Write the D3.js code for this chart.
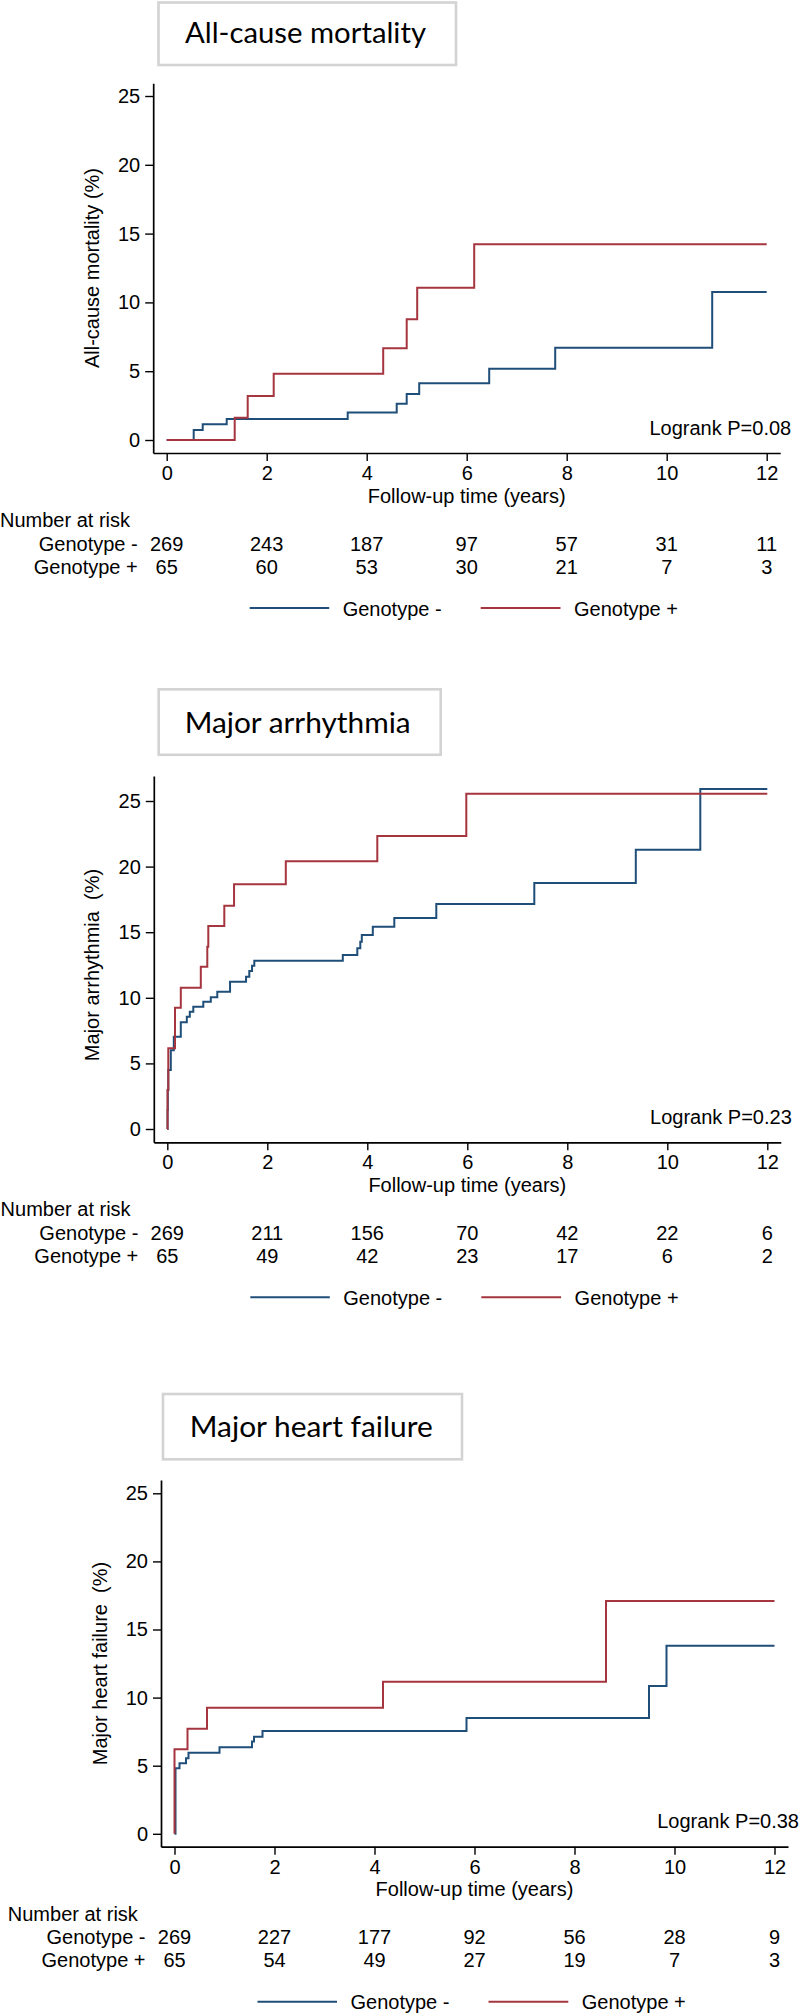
<!DOCTYPE html>
<html>
<head>
<meta charset="utf-8">
<script src="https://cdn.jsdelivr.net/npm/d3@7"></script>
<style>
  body { margin: 0; background: #fff; }
  svg { display: block; }
  text { font-family: "Liberation Sans", Arial, sans-serif; fill: #000; }
  .title { font-family: Lato, "Open Sans", sans-serif; }
</style>
</head>
<body>
<svg id="chart" width="800" height="2014"></svg>
<script>
// Tick values shared by all three panels
const xTicks = [0, 2, 4, 6, 8, 10, 12];
const yTicks = [0, 5, 10, 15, 20, 25];
const groups = ['Genotype -', 'Genotype +'];

// Cumulative incidence steps: [years, percent]
const mortalityNeg = [[0, 0], [0.54, 0.73], [0.72, 1.14], [1.2, 1.53], [3.62, 1.99], [4.6, 2.64],
  [4.8, 3.34], [5.05, 4.12], [6.45, 5.18], [7.77, 6.71], [10.91, 10.76], [12, 10.76]];
const mortalityPos = [[0, 0], [1.36, 1.62], [1.62, 3.2], [2.14, 4.82], [4.33, 6.66], [4.8, 8.77],
  [5.01, 11.07], [6.15, 14.22], [12, 14.22]];

const arrhythmiaNeg = [[0, 0], [0.005, 1.45], [0.01, 2.97], [0.02, 4.5], [0.07, 6.0], [0.13, 7.04],
  [0.27, 8.13], [0.39, 8.56], [0.45, 8.94], [0.52, 9.32], [0.72, 9.7], [0.87, 10.04], [1.0, 10.47],
  [1.255, 11.23], [1.575, 11.6], [1.64, 12.04], [1.695, 12.45], [1.74, 12.83], [3.51, 13.26],
  [3.8, 13.77], [3.86, 14.28], [3.89, 14.79], [4.11, 15.42], [4.54, 16.08], [5.38, 17.15],
  [7.34, 18.75], [9.37, 21.29], [10.66, 25.91], [12, 25.91]];
const arrhythmiaPos = [[0, 0], [0.005, 2.97], [0.02, 6.15], [0.154, 9.25], [0.27, 10.77], [0.67, 12.37],
  [0.8, 13.9], [0.82, 15.47], [1.14, 17.02], [1.335, 18.65], [2.37, 20.4], [4.2, 22.33],
  [5.98, 25.56], [12, 25.56]];

const heartNeg = [[0, 0], [0.02, 4.81], [0.1, 5.18], [0.23, 5.54], [0.28, 5.96], [0.9, 6.35],
  [1.55, 6.77], [1.59, 7.13], [1.76, 7.55], [5.84, 8.5], [9.49, 10.85], [9.84, 13.8], [12, 13.8]];
const heartPos = [[0, 0], [0, 6.2], [0.26, 7.72], [0.65, 9.26], [4.17, 11.17], [8.63, 17.09], [12, 17.09]];

// Number at risk at each x tick
const mortalityRiskNeg = [269, 243, 187, 97, 57, 31, 11];
const mortalityRiskPos = [65, 60, 53, 30, 21, 7, 3];
const arrhythmiaRiskNeg = [269, 211, 156, 70, 42, 22, 6];
const arrhythmiaRiskPos = [65, 49, 42, 23, 17, 6, 2];
const heartRiskNeg = [269, 227, 177, 92, 56, 28, 9];
const heartRiskPos = [65, 54, 49, 27, 19, 7, 3];

const colors = { neg: '#1f4e79', pos: '#a5353f' };

const panels = [
  {
    title: 'All-cause mortality', yLabel: 'All-cause mortality (%)', logrank: 'Logrank P=0.08',
    neg: mortalityNeg, pos: mortalityPos, riskNeg: mortalityRiskNeg, riskPos: mortalityRiskPos,
    xZero: 166.7, yZero: 440, yTop: 83.3, axisY: 453, pxPerPct: 13.76,
    box: [158.5, 2.5, 297.5, 62.5], titleX: 185, titleY: 43.3, titleW: 241
  },
  {
    title: 'Major arrhythmia', yLabel: 'Major arrhythmia  (%)', logrank: 'Logrank P=0.23',
    neg: arrhythmiaNeg, pos: arrhythmiaPos, riskNeg: arrhythmiaRiskNeg, riskPos: arrhythmiaRiskPos,
    xZero: 167.3, yZero: 1129, yTop: 776, axisY: 1142.3, pxPerPct: 13.12,
    box: [158.7, 689.3, 282, 65.5], titleX: 184.7, titleY: 733.3, titleW: 226
  },
  {
    title: 'Major heart failure', yLabel: 'Major heart failure  (%)', logrank: 'Logrank P=0.38',
    neg: heartNeg, pos: heartPos, riskNeg: heartRiskNeg, riskPos: heartRiskPos,
    xZero: 174.5, yZero: 1833.8, yTop: 1480, axisY: 1846.7, pxPerPct: 13.62,
    box: [163, 1394, 299, 65.3], titleX: 189.8, titleY: 1437.3, titleW: 243
  }
];

const svg = d3.select('#chart');

function drawPanel(p) {
  const g = svg.append('g');

  // Title box
  g.append('rect')
    .attr('x', p.box[0]).attr('y', p.box[1])
    .attr('width', p.box[2]).attr('height', p.box[3])
    .attr('fill', '#fff')
    .attr('stroke', '#d3d3d3')
    .attr('stroke-width', 2.6);

  g.append('text')
    .attr('class', 'title')
    .attr('x', p.titleX).attr('y', p.titleY)
    .attr('font-size', 28)
    .attr('textLength', p.titleW)
    .attr('lengthAdjust', 'spacingAndGlyphs')
    .text(p.title);

  // Scales
  const xScale = d3.scaleLinear()
    .domain([-0.27, 12.27])
    .range([p.xZero - 13.5, p.xZero + 613.5]);

  const yMin = -(p.axisY - p.yZero) / p.pxPerPct;
  const yMax = (p.yZero - p.yTop) / p.pxPerPct;
  const yScale = d3.scaleLinear()
    .domain([yMin, yMax])
    .range([p.axisY, p.yTop]);

  // Axes
  const xAxis = d3.axisBottom(xScale)
    .tickValues(xTicks)
    .tickSize(8)
    .tickSizeOuter(0)
    .tickPadding(5);

  const yAxis = d3.axisLeft(yScale)
    .tickValues(yTicks)
    .tickSize(8)
    .tickSizeOuter(0)
    .tickPadding(5);

  const xg = g.append('g')
    .attr('transform', `translate(0, ${p.axisY})`)
    .call(xAxis);

  const yg = g.append('g')
    .attr('transform', `translate(${xScale(-0.27)}, 0)`)
    .call(yAxis);

  [xg, yg].forEach(a => {
    a.selectAll('text').attr('font-size', 20).attr('font-family', null);
    a.select('.domain').attr('stroke', '#000').attr('stroke-width', 1.7);
    a.selectAll('.tick line').attr('stroke', '#000').attr('stroke-width', 1.4);
    a.attr('font-family', null);
  });

  // Y label
  g.append('text')
    .attr('transform', `translate(${xScale(-0.27) - 54.5}, ${(yScale(0) + yScale(25)) / 2}) rotate(-90)`)
    .attr('text-anchor', 'middle')
    .attr('font-size', 20)
    .style('white-space', 'pre')
    .text(p.yLabel);

  // X label
  g.append('text')
    .attr('x', (xScale(0) + xScale(12)) / 2)
    .attr('y', p.axisY + 49.5)
    .attr('text-anchor', 'middle')
    .attr('font-size', 20)
    .text('Follow-up time (years)');

  // Step curves
  const line = d3.line()
    .x(d => xScale(d[0]))
    .y(d => yScale(d[1]))
    .curve(d3.curveStepAfter);

  [[p.neg, colors.neg], [p.pos, colors.pos]].forEach(([data, color]) => {
    g.append('path')
      .datum(data)
      .attr('fill', 'none')
      .attr('stroke', color)
      .attr('stroke-width', 2)
      .attr('stroke-linejoin', 'miter')
      .attr('d', line);
  });

  // Logrank
  g.append('text')
    .attr('x', xScale(12) + 24.5)
    .attr('y', yScale(0) - 5.5)
    .attr('text-anchor', 'end')
    .attr('font-size', 20)
    .text(p.logrank);

  // Number at risk table
  g.append('text')
    .attr('x', xScale(0) - 166.7)
    .attr('y', p.axisY + 74)
    .attr('font-size', 20)
    .text('Number at risk');

  [[groups[0], p.riskNeg, 97.7], [groups[1], p.riskPos, 120.7]].forEach(([name, vals, dy]) => {
    g.append('text')
      .attr('x', xScale(0) - 29)
      .attr('y', p.axisY + dy)
      .attr('text-anchor', 'end')
      .attr('font-size', 20)
      .style('white-space', 'pre')
      .text(name);

    g.selectAll(null)
      .data(vals)
      .enter()
      .append('text')
      .attr('x', (d, i) => xScale(xTicks[i]))
      .attr('y', p.axisY + dy)
      .attr('text-anchor', 'middle')
      .attr('font-size', 20)
      .text(d => d);
  });

  // Legend
  const ly = p.axisY + 155;
  const legend = [
    { label: groups[0], color: colors.neg, x1: 83, x2: 162.5, tx: 176 },
    { label: groups[1], color: colors.pos, x1: 314, x2: 393.8, tx: 407.3 }
  ];
  legend.forEach(l => {
    g.append('line')
      .attr('x1', xScale(0) + l.x1).attr('x2', xScale(0) + l.x2)
      .attr('y1', ly).attr('y2', ly)
      .attr('stroke', l.color)
      .attr('stroke-width', 2);
    g.append('text')
      .attr('x', xScale(0) + l.tx)
      .attr('y', ly + 7.5)
      .attr('font-size', 20)
      .style('white-space', 'pre')
      .text(l.label);
  });
}

panels.forEach(drawPanel);
</script>
</body>
</html>
